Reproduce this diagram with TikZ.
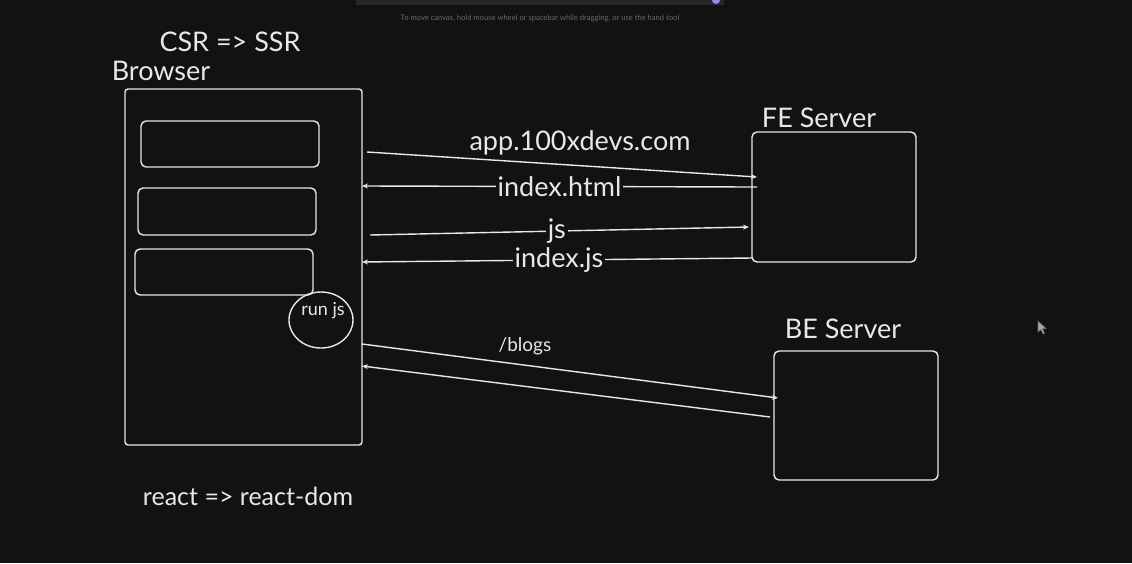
\documentclass[tikz,border=0pt]{standalone}
\usepackage{fontspec}
\setmainfont{Lato}
\usepackage{tikz}
\usetikzlibrary{arrows.meta,shapes.geometric}
\definecolor{canvas}{HTML}{121212}
\definecolor{chalk}{HTML}{E8E8E8}
\definecolor{hint}{HTML}{6A6A6A}
\definecolor{chrome}{HTML}{26262C}
\definecolor{knob}{HTML}{8F8CF0}
\newcommand{\fs}[1]{\fontsize{#1}{#1}\selectfont}

\begin{document}
\begin{tikzpicture}[x=1pt,y=-1pt,
  sk/.style={draw=chalk,line width=1.4pt,rounded corners=5pt},
  lbl/.style={chalk,inner sep=0pt,font=\fs{27}},
  msg/.style={draw=chalk,line width=1.4pt,-{Stealth[length=6pt,width=5pt]}},
  tag/.style={lbl,fill=canvas,inner sep=2pt}]
  % canvas and its margins
  \fill[canvas] (0,0) rectangle (1132,563);
  \useasboundingbox (0,0) rectangle (1132,563);
  % editor chrome
  \fill[chrome] (356,0) rectangle (724,5);
  \fill[knob] (716,0) circle (4);
  \node[hint,font=\fs{7.6}] (hinttxt) at (540,18) {To move canvas, hold mouse wheel or spacebar while dragging, or use the hand tool};
  % titles
  \node[lbl] (title) at (230,42) {CSR => SSR};
  \node[lbl] (brlbl) at (161,71) {Browser};
  % browser window
  \draw[sk,rounded corners=3pt] (125,89) rectangle (362,445);
  \node[sk,minimum width=178,minimum height=46] (card1) at (230,144) {};
  \node[sk,minimum width=178,minimum height=47] (card2) at (227,211.5) {};
  \node[sk,minimum width=178,minimum height=46] (card3) at (224,272) {};
  \node[draw=chalk,line width=1.4pt,ellipse,minimum width=64,minimum height=56] (runjs) at (321,320) {};
  \node[lbl,font=\fs{18}] (runtxt) at (323,311) {run js};
  % servers
  \node[lbl] (felbl) at (819,118) {FE Server};
  \node[sk,minimum width=164,minimum height=130] (fe) at (834,197) {};
  \node[lbl] (belbl) at (843,329) {BE Server};
  \node[sk,minimum width=164,minimum height=129] (be) at (856,415.5) {};
  % arrow ends
  \coordinate (q1) at (367,152); \coordinate (f1) at (757,177);
  \coordinate (f2) at (757,187); \coordinate (q2) at (362,186);
  \coordinate (q3) at (370,235); \coordinate (f3) at (749,227);
  \coordinate (f4) at (752,258); \coordinate (q4) at (362,262);
  \coordinate (q5) at (362,344); \coordinate (b5) at (778,398);
  \coordinate (b6) at (770,417); \coordinate (q6) at (362,366);
  % messages
  \draw[msg] (q1) -- (f1);
  \node[lbl] (req) at (580,143) {app.100xdevs.com};
  \draw[msg] (f2) -- node[tag,pos=0.5] (html) {index.html} (q2);
  \draw[msg] (q3) -- node[tag,pos=0.493] (jsreq) {js} (f3);
  \draw[msg] (f4) -- node[tag,pos=0.495] (jsres) {index.js} (q4);
  \draw[msg] (q5) -- (b5);
  \node[lbl,font=\fs{19}] (blogs) at (525,346) {/blogs};
  \draw[msg] (b6) -- (q6);
  % footer
  \node[lbl,font=\fs{25}] (lib) at (248,496) {react => react-dom};
  % pointer
  \draw[hint,fill=hint!60,line width=0.6pt] (1038,321) -- (1038,332) -- (1041,329.5) -- (1043,334) -- (1044.5,333.3) -- (1042.6,328.8) -- (1046,328.5) -- cycle;
\end{tikzpicture}
\end{document}
